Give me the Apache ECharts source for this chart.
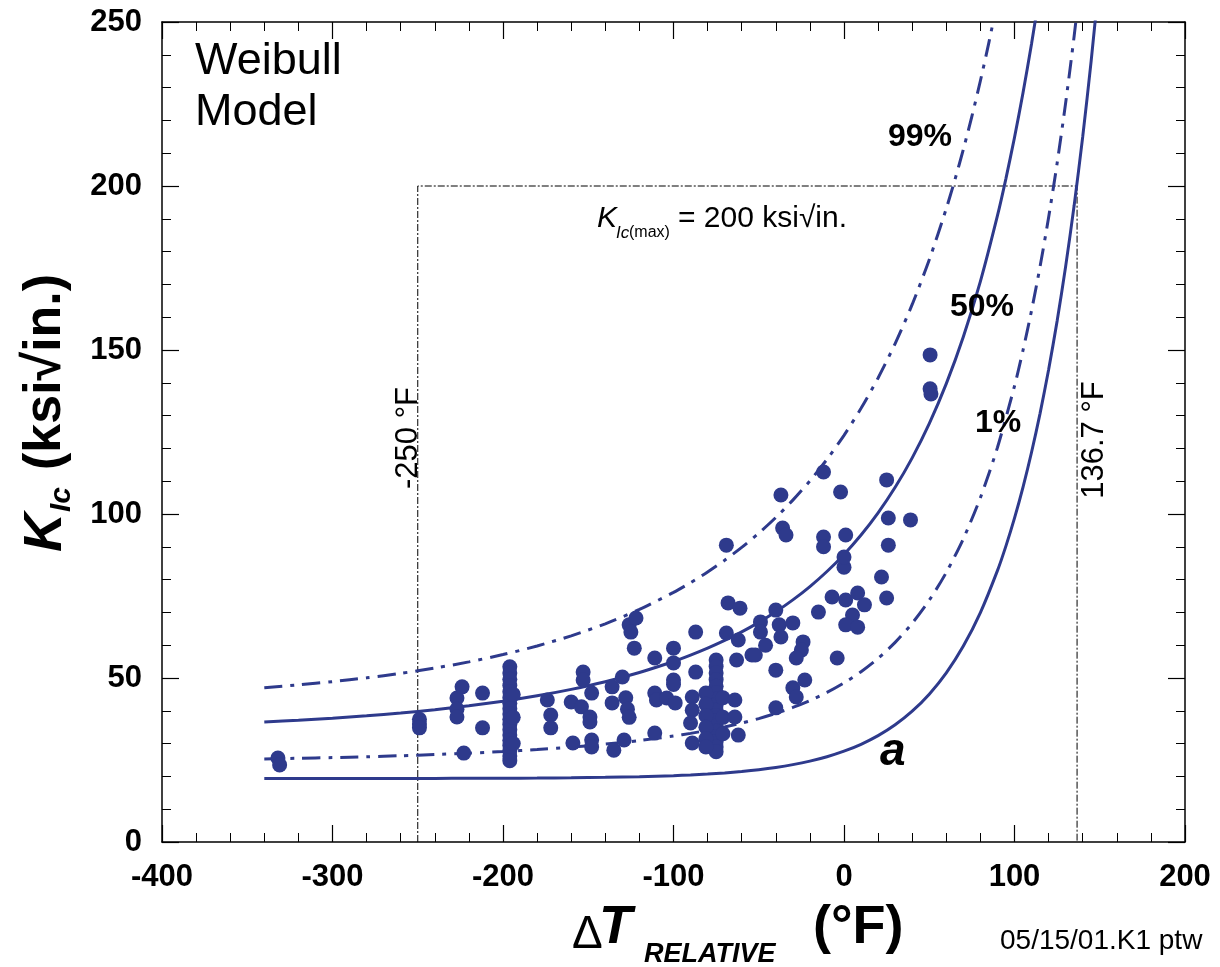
<!DOCTYPE html>
<html><head><meta charset="utf-8">
<script src="https://cdn.jsdelivr.net/npm/echarts@6/dist/echarts.min.js"></script>
<style>html,body{margin:0;padding:0;background:#fff}#c{width:1220px;height:967px}</style>
</head><body><div id="c"></div>
<script>
// Axis ranges [min, max, interval]
const xRange = [-400, 200, 100];
const yRange = [0, 250, 50];

// Weibull model curves
const curveA = [[-340,19.35],[-320,19.36],[-300,19.36],[-280,19.37],[-260,19.37],[-240,19.39],[-220,19.41],[-200,19.44],[-180,19.49],[-160,19.58],[-140,19.71],[-120,19.91],[-100,20.23],[-90,20.45],[-80,20.72],[-70,21.07],[-60,21.51],[-50,22.05],[-40,22.73],[-30,23.59],[-20,24.66],[-10,26.0],[0,27.69],[10,29.79],[20,32.43],[30,35.74],[40,39.88],[50,45.08],[60,51.58],[70,59.73],[80,69.94],[90,82.73],[95,90.29],[100,98.75],[105,108.22],[110,118.83],[115,130.69],[120,143.98],[125,158.85],[130,175.49],[135,194.11],[140,214.96],[145,238.3],[150,264.42]];
const curve1 = [[-340,25.34],[-320,25.53],[-300,25.74],[-280,26.0],[-260,26.3],[-240,26.66],[-220,27.08],[-200,27.59],[-180,28.2],[-160,28.93],[-140,29.83],[-120,30.93],[-100,32.3],[-90,33.12],[-80,34.04],[-70,35.08],[-60,36.27],[-50,37.63],[-40,39.2],[-30,41.02],[-20,43.13],[-10,45.6],[0,48.5],[10,51.93],[20,56.0],[30,60.86],[40,66.69],[50,73.7],[60,82.18],[70,92.46],[80,104.98],[90,120.28],[100,139.02],[105,149.93],[110,162.04],[115,175.46],[120,190.38],[125,206.94],[130,225.34],[135,245.79],[140,268.55]];
const curve50 = [[-340,36.61],[-320,37.14],[-300,37.75],[-280,38.48],[-260,39.33],[-240,40.34],[-220,41.52],[-200,42.92],[-180,44.58],[-160,46.54],[-140,48.87],[-120,51.67],[-100,55.02],[-90,56.96],[-80,59.09],[-70,61.44],[-60,64.05],[-50,66.96],[-40,70.19],[-30,73.81],[-20,77.88],[-10,82.47],[0,87.67],[10,93.59],[20,100.35],[30,108.13],[40,117.12],[50,127.56],[60,139.75],[70,154.05],[80,170.93],[90,190.95],[95,202.34],[100,214.8],[105,228.43],[110,243.35],[115,259.72]];
const curve99 = [[-340,47.06],[-320,47.9],[-300,48.89],[-280,50.05],[-260,51.42],[-240,53.02],[-220,54.91],[-200,57.14],[-180,59.76],[-160,62.86],[-140,66.53],[-120,70.89],[-100,76.09],[-90,79.06],[-80,82.31],[-70,85.89],[-60,89.82],[-50,94.15],[-40,98.93],[-30,104.23],[-20,110.11],[-10,116.66],[0,123.99],[10,132.22],[20,141.48],[30,151.97],[40,163.89],[50,177.5],[60,193.13],[65,201.82],[70,211.16],[75,221.23],[80,232.08],[85,243.8],[90,256.47]];

// K_Ic(max) limit lines
const limitLine = [[-250,0],[-250,200],[136.7,200],[136.7,0]];

// Measured data (ΔT, K_Ic)
const points = [
[-332,25.6],[-331,23.5],
[-249,37.4],[-249,36.0],[-249,34.8],
[-227,43.9],[-224,47.3],[-227,40.5],[-227,38.1],[-212,45.4],[-212,34.8],[-223,27.1],
[-196,53.4],[-196,51.5],[-196,49.6],[-196,47.7],[-196,45.8],[-196,44.0],[-196,42.3],[-196,40.6],[-196,39.0],[-196,37.4],[-196,35.8],[-196,34.2],[-196,32.6],[-196,31.0],[-196,29.4],[-196,27.8],[-196,26.2],[-196,24.8],[-194,45],[-194,38],[-194,30],
[-174,43.3],[-172,38.7],[-172,34.8],[-159,30.2],
[-153,51.8],[-153,49.4],[-160,42.7],[-154,41.2],[-148,45.4],[-149,38.1],[-149,36.6],[-148,31.1],[-148,29.0],
[-136,47.3],[-136,42.4],[-130,50.3],[-128,44.0],[-127,40.5],[-126,38.0],[-135,28.0],[-129,31.1],
[-123,59.1],[-126,66.2],[-122,68.3],[-125,64.0],
[-111,56.1],[-111,45.4],[-110,43.3],[-111,33.2],[-104,43.9],[-99,42.4],
[-100,59.1],[-100,54.6],[-100,49.4],[-100,48.0],
[-87,64.0],[-87,51.8],[-89,44.2],[-89,40.2],[-90,36.3],[-89,30.2],
[-75,55.5],[-75,53.5],[-75,51.5],[-75,49.5],[-75,47.5],[-75,45.5],[-75,43.5],[-75,41.8],[-75,40.2],[-75,38.6],[-75,37.0],[-75,35.4],[-75,33.8],[-75,32.2],[-75,30.6],[-75,29.0],[-75,27.5],
[-81,45.4],[-81,42.0],[-81,38.5],[-81,35.0],[-81,31.5],[-81,29.0],
[-71,44],[-71,38],[-71,33],
[-68,72.9],[-61,71.3],[-69,63.7],[-62,61.6],[-63,55.5],[-64,43.3],[-64,38.1],[-62,32.6],[-54,57.0],[-69,90.5],
[-49,67.1],[-49,64.0],[-40,70.7],[-38,66.2],[-37,62.5],[-30,66.8],[-46,60.0],[-52,57.0],[-40,52.4],
[-24,61.0],[-25,58.5],[-28,56.1],[-23,49.4],[-30,47.0],[-28,44.2],[-40,40.9],
[-15,70.1],[-7,74.7],[1,73.8],[8,75.9],[12,72.3],[5,69.2],[1,66.2],[8,65.5],[-4,56.1],[0,83.8],[0,86.9],[22,80.8],
[-37,105.8],[-36,95.7],[-34,93.6],[-12,112.8],[-2,106.7],[-12,93.0],[-12,90.0],[1,93.6],
[25,110.4],[26,98.8],[39,98.2],[26,90.5],[25,74.4],
[50.5,148.5],[50.5,138.2],[51,136.6]
];

const navy = '#2e3a8c';
const FF = 'Liberation Sans, Arial, sans-serif';

function axisCommon(show) {
  return {
    axisLine: {show: true, onZero: false, lineStyle: {color: '#000', width: 1.5}},
    axisTick: {show: true, inside: true, length: 17, lineStyle: {color: '#000', width: 1.2}},
    minorTick: {show: true, splitNumber: 5, length: 9, lineStyle: {color: '#000', width: 1}},
    splitLine: {show: false},
    axisLabel: {show: show, color: '#000', fontSize: 31, fontWeight: 'bold', fontFamily: FF, margin: 20}
  };
}

const chart = echarts.init(document.getElementById('c'), null, {renderer: 'canvas'});

function txt(x, y, text, size, opts) {
  opts = opts || {};
  return {
    type: 'text', x: x, y: y, rotation: opts.rotation || 0, z: 100,
    style: {
      text: text, fontSize: size, fontFamily: opts.family || FF,
      fontWeight: opts.weight || 'normal', fontStyle: opts.style || 'normal',
      fill: '#000', align: opts.align || 'left', textAlign: opts.align || 'left',
      verticalAlign: 'middle', textVerticalAlign: 'middle'
    }
  };
}

const curveStyle = {symbol: 'none', smooth: 0.25, z: 2};
const dashDot = [18, 8, 4, 8];

const option = {
  animation: false,
  backgroundColor: '#fff',
  grid: {left: 162, right: 35, top: 22, bottom: 125, containLabel: false},
  xAxis: [
    Object.assign({type: 'value', position: 'bottom', min: xRange[0], max: xRange[1], interval: xRange[2]}, axisCommon(true)),
    Object.assign({type: 'value', position: 'top', min: xRange[0], max: xRange[1], interval: xRange[2]}, axisCommon(false))
  ],
  yAxis: [
    Object.assign({type: 'value', position: 'left', min: yRange[0], max: yRange[1], interval: yRange[2]}, axisCommon(true)),
    Object.assign({type: 'value', position: 'right', min: yRange[0], max: yRange[1], interval: yRange[2]}, axisCommon(false))
  ],
  series: [
    {type: 'line', data: limitLine, symbol: 'none', silent: true, z: 1,
     lineStyle: {color: '#000', width: 1, type: [7, 2, 2, 2]}},
    Object.assign({type: 'line', data: curveA, lineStyle: {color: navy, width: 3}}, curveStyle),
    Object.assign({type: 'line', data: curve50, lineStyle: {color: navy, width: 3}}, curveStyle),
    Object.assign({type: 'line', data: curve1, lineStyle: {color: navy, width: 3, type: dashDot}}, curveStyle),
    Object.assign({type: 'line', data: curve99, lineStyle: {color: navy, width: 3, type: dashDot}}, curveStyle),
    {type: 'scatter', data: points, symbol: 'circle', symbolSize: 15, z: 3,
     itemStyle: {color: navy, opacity: 1}}
  ],
  graphic: [
    txt(195, 62, 'Weibull', 45),
    txt(195, 113, 'Model', 45),
    txt(888, 137, '99%', 32, {weight: 'bold'}),
    txt(950, 307, '50%', 32, {weight: 'bold'}),
    txt(975, 423, '1%', 32, {weight: 'bold'}),
    txt(880, 752, 'a', 46, {weight: 'bold', style: 'italic'}),
    txt(597, 219, 'K', 30, {style: 'italic'}),
    txt(616, 233, 'Ic', 17, {style: 'italic'}),
    txt(629, 233, '(max)', 16),
    txt(678, 219, '= 200 ksi\u221Ain.', 30),
    txt(408, 438, '-250 \u00B0F', 31, {align: 'center', rotation: Math.PI / 2}),
    txt(1094, 440, '136.7 \u00B0F', 31, {align: 'center', rotation: Math.PI / 2}),
    txt(1000, 941, '05/15/01.K1 ptw', 28),
    txt(572, 935, '\u0394', 46),
    txt(599, 928, 'T', 54, {weight: 'bold', style: 'italic'}),
    txt(644, 955, 'RELATIVE', 27, {weight: 'bold', style: 'italic'}),
    txt(813, 928, '(\u00B0F)', 54, {weight: 'bold'}),
    {type: 'group', x: 70, y: 552, rotation: Math.PI / 2, z: 100, children: [
      txt(0, -24, 'K', 54, {weight: 'bold', style: 'italic'}),
      txt(40, -8, 'Ic', 30, {weight: 'bold', style: 'italic'}),
      txt(82, -24, '(ksi\u221Ain.)', 52, {weight: 'bold'})
    ]}
  ]
};
chart.setOption(option);
</script></body></html>
